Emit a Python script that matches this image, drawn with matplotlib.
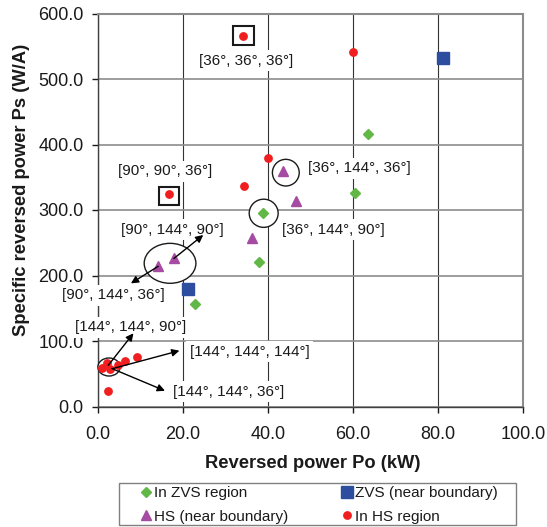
import matplotlib
matplotlib.use("Agg")
import matplotlib.pyplot as plt
from matplotlib.lines import Line2D
from matplotlib.patches import Ellipse, Rectangle

plt.rcParams.update({
    "font.family": ["Liberation Sans", "DejaVu Sans"],
    "font.size": 12,
    "text.color": "#1a1a1a",
})

# ── Data: reversed power Po (kW) vs specific reversed power Ps (W/A) ─────────
zvs_in_po = [63.4, 60.4, 38.8, 37.9, 22.9]
zvs_in_ps = [416, 326, 296, 220, 156]

zvs_edge_po = [81.1, 21.2]
zvs_edge_ps = [532, 179]

hs_edge_po = [43.6, 46.7, 36.3, 17.9, 14.2]
hs_edge_ps = [360, 313, 258, 226, 214]

hs_in_po = [1.1, 2.3, 3.0, 4.7, 6.4, 9.2, 2.5, 16.7, 34.2, 34.4, 40.1, 59.9]
hs_in_ps = [59, 67, 57, 64, 70, 76, 24, 324, 566, 336, 380, 541]

x_ticks = [0, 20, 40, 60, 80, 100]
y_ticks = [0, 100, 200, 300, 400, 500, 600]

# switching angle combinations [a1, a2, a3]
angle_labels = [
    "[36°, 36°, 36°]", "[90°, 90°, 36°]", "[36°, 144°, 36°]",
    "[90°, 144°, 90°]", "[36°, 144°, 90°]", "[90°, 144°, 36°]",
    "[144°, 144°, 90°]", "[144°, 144°, 144°]", "[144°, 144°, 36°]",
]

GREEN = "#62B846"
BLUE = "#2D4E9E"
PURPLE = "#A64BA2"
RED = "#F01E1E"

W, H = 547, 527
fig = plt.figure(figsize=(W / 100, H / 100), dpi=100)
ax = fig.add_axes([97.7 / W, 1 - 406.5 / H, 425.6 / W, 393 / H])

ax.set_xlim(0, 100)
ax.set_ylim(0, 600)
ax.set_xticks(x_ticks)
ax.set_yticks(y_ticks)
ax.set_xticklabels([f"{v:.1f}" for v in x_ticks])
ax.set_yticklabels([f"{v:.1f}" for v in y_ticks])
ax.tick_params(axis="x", length=4, width=1, pad=10, labelsize=13, colors="#1a1a1a")
ax.tick_params(axis="y", length=4, width=1, pad=6, labelsize=13, colors="#1a1a1a")

ax.set_axisbelow(True)
ax.xaxis.grid(True, color="#333333", linewidth=0.8)
ax.yaxis.grid(True, color="#8c8c8c", linewidth=1.2)
for side in ["top", "right"]:
    ax.spines[side].set_color("#8c8c8c")
    ax.spines[side].set_linewidth(1.5)
for side in ["left", "bottom"]:
    ax.spines[side].set_color("#404040")
    ax.spines[side].set_linewidth(1.0)

# highlight shapes (white filled, under the markers)
shape_kw = dict(facecolor="white", edgecolor="#1a1a1a", zorder=3, clip_on=False)
ax.add_patch(Rectangle((34.2 - 2.47, 566 - 14.7), 4.93, 29.5, linewidth=1.5, **shape_kw))
ax.add_patch(Rectangle((16.8 - 2.4, 321.4 - 14.2), 4.8, 28.4, linewidth=1.5, **shape_kw))
ax.add_patch(Ellipse((44.2, 357), 6.3, 40.7, linewidth=1.0, **shape_kw))
ax.add_patch(Ellipse((39.0, 295), 6.8, 43.0, linewidth=1.0, **shape_kw))
ax.add_patch(Ellipse((17.0, 218.6), 12.15, 61, linewidth=1.0, **shape_kw))
ax.add_patch(Ellipse((2.65, 60.3), 5.2, 27.5, linewidth=1.0, **shape_kw))

ax.plot(zvs_in_po, zvs_in_ps, "D", color=GREEN, ms=5.5, zorder=4, clip_on=False)
ax.plot(zvs_edge_po, zvs_edge_ps, "s", color=BLUE, ms=8.3, zorder=4, clip_on=False)
ax.plot(hs_edge_po, hs_edge_ps, "^", color=PURPLE, ms=7.6, zorder=4, clip_on=False)
ax.plot(hs_in_po, hs_in_ps, "o", color=RED, ms=5.3, zorder=4, clip_on=False)

# angle labels
label_pos = [
    (34.8, 528, "center"), (15.8, 359.5, "center"), (61.6, 364, "center"),
    (17.6, 269.5, "center"), (55.4, 269.5, "center"), (3.6, 170.2, "center"),
    (7.7, 121, "center"), (21.6, 83.7, "left"), (17.7, 22.6, "left"),
]
for text, (lx, ly, ha) in zip(angle_labels, label_pos):
    ax.text(lx, ly, text, ha=ha, va="center", fontsize=11, zorder=5,
            bbox=dict(facecolor="white", edgecolor="none", pad=2.5))

# arrows from the highlighted points to their labels
arrows = [
    ((14.2, 214), (7.8, 188)),
    ((17.9, 226), (24.8, 261.8)),
    ((2.5, 63), (8.4, 111.8)),
    ((3.6, 58), (19.2, 85.2)),
    ((3.3, 58), (15.8, 24)),
]
for tail, head in arrows:
    ax.annotate("", xy=head, xytext=tail, zorder=6,
                arrowprops=dict(arrowstyle="-|>", color="black", lw=1.0,
                                mutation_scale=11, shrinkA=0, shrinkB=0))

fig.text(313 / W, 1 - 463 / H, "Reversed power Po (kW)", ha="center", va="center",
         fontsize=13.2, fontweight="bold")
fig.text(21.5 / W, 1 - 190 / H, "Specific reversed power Ps (W/A)", ha="center",
         va="center", rotation=90, fontsize=13.2, fontweight="bold")

# legend with a separate framed box
handles = [
    Line2D([], [], ls="none", marker="D", color=GREEN, ms=5.5),
    Line2D([], [], ls="none", marker="^", color=PURPLE, ms=7.6),
    Line2D([], [], ls="none", marker="s", color=BLUE, ms=8.0),
    Line2D([], [], ls="none", marker="o", color=RED, ms=5.3),
]
labels = ["In ZVS region", "HS (near boundary)", "ZVS (near boundary)", "In HS region"]
fig.legend(handles, labels, ncol=2, loc="upper left",
           bbox_to_anchor=(141.1 / W, 1 - 486.5 / H), frameon=False,
           fontsize=11, borderpad=0, borderaxespad=0, handlelength=0.6,
           handletextpad=0.27, columnspacing=3.5, labelspacing=0.6)
fig.patches.append(Rectangle((118.7 / W, 1 - 525.3 / H), 397.3 / W, 42 / H,
                             transform=fig.transFigure, facecolor="none",
                             edgecolor="#808080", linewidth=1.0))

fig.savefig("out.png", dpi=100)
